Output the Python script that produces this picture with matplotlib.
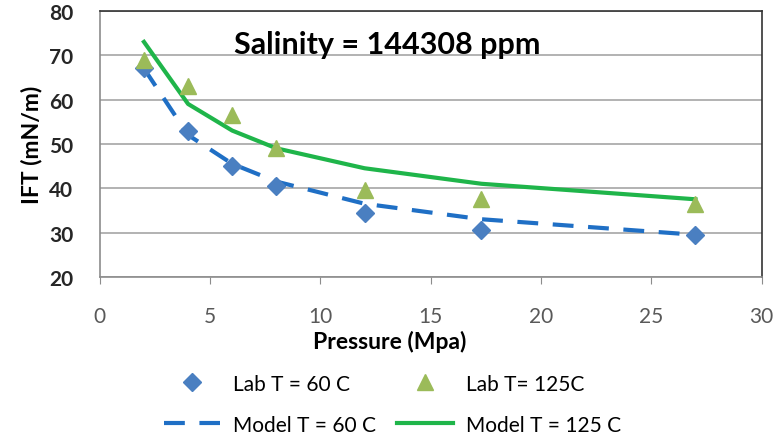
import matplotlib.pyplot as plt

plt.rcParams['font.family'] = ['Lato', 'DejaVu Sans']

# pressure (MPa)
pressure = [2, 4, 6, 8, 12, 17.3, 27]

# measured IFT (mN/m)
lab_60 = [67, 53, 45, 40.5, 34.5, 30.5, 29.5]
lab_125 = [69, 63, 56.5, 49, 39.5, 37.5, 36.5]

# model IFT (mN/m)
model_60 = [67, 52, 45.5, 41.5, 36.5, 33, 29.5]
model_125 = [73, 59, 53, 49, 44.5, 41, 37.5]

fig = plt.figure(figsize=(7.74, 4.39), dpi=100)
ax = fig.add_axes([0.129, 0.367, 0.855, 0.606])

ax.set_xlim(0, 30)
ax.set_ylim(20, 80)
ax.set_xticks(range(0, 31, 5))
ax.set_yticks(range(20, 81, 10))
ax.yaxis.grid(True, color='#a6a6a6', linewidth=1.2)
ax.set_axisbelow(True)

m60, = ax.plot(pressure, model_60, color='#1f6fc5', linewidth=3, dashes=(5, 3.5))
m125, = ax.plot(pressure, model_125, color='#1fb54a', linewidth=3)
l60, = ax.plot(pressure, lab_60, linestyle='none', marker='D', markersize=9,
               color='#4a7fc1')
l125, = ax.plot(pressure, lab_125, linestyle='none', marker='^', markersize=12,
                color='#9bbb59')

for side in ['left', 'bottom']:
    ax.spines[side].set_color('#8c8c8c')
    ax.spines[side].set_linewidth(1.2)
for side in ['top', 'right']:
    ax.spines[side].set_color('#333333')
    ax.spines[side].set_linewidth(1.2)

ax.tick_params(axis='y', length=0, pad=19, labelsize=15, labelcolor='#262626')
ax.tick_params(axis='x', direction='out', length=5, color='#8c8c8c', pad=16,
               labelsize=15, labelcolor='#595959')
for lbl in ax.get_yticklabels():
    lbl.set_fontweight('bold')

ax.set_ylabel('IFT (mN/m)', fontsize=16.5, fontweight='bold', labelpad=5)
ax.set_xlabel('Pressure (Mpa)', fontsize=16.5, fontweight='bold')
ax.xaxis.set_label_coords(0.438, -0.2)

ax.text(0.435, 72.5, 'Salinity = 144308 ppm', transform=ax.get_yaxis_transform(),
        fontsize=22, fontweight='bold', ha='center', va='center')

handles = [l60, m60, l125, m125]
labels = ['Lab T = 60 C', 'Model T = 60 C', 'Lab T= 125C', 'Model T = 125 C']
fig.legend(handles, labels, ncol=2, loc='center', bbox_to_anchor=(0.507, 0.077),
           frameon=False, fontsize=15, handlelength=2.7, columnspacing=1.0,
           labelspacing=1.0, handletextpad=0.6)

fig.savefig('out.png', dpi=100)
